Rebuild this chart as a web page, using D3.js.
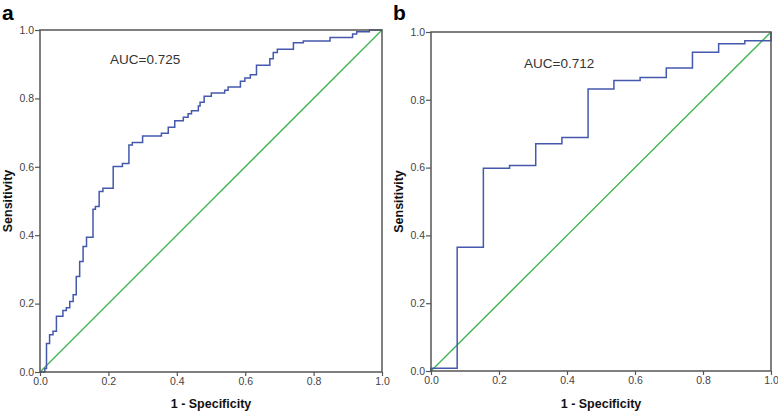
<!DOCTYPE html>
<html>
<head>
<meta charset="utf-8">
<script src="https://cdn.jsdelivr.net/npm/d3@7"></script>
<style>
	body { margin: 0; background: #fff; }
	svg { display: block; font-family: "Liberation Sans", Arial, sans-serif; }
</style>
</head>
<body>
<div id="chart"></div>
<script>
// panel a ROC points (1 - specificity, sensitivity)
let fprA = [0, 0.014, 0.019, 0.028, 0.038, 0.048, 0.067, 0.077, 0.087, 0.097, 0.106, 0.116, 0.126, 0.136, 0.155, 0.162,
	0.173, 0.184, 0.214, 0.241, 0.26, 0.27, 0.3, 0.355, 0.375, 0.394, 0.419, 0.433, 0.443, 0.463, 0.468,
	0.48, 0.501, 0.54, 0.55, 0.586, 0.599, 0.615, 0.633, 0.672, 0.682, 0.694, 0.741, 0.77, 0.848, 0.914,
	0.926, 0.963, 1.0]
let tprA = [0, 0.01, 0.083, 0.109, 0.119, 0.163, 0.18, 0.188, 0.206, 0.226, 0.279, 0.323, 0.367, 0.394, 0.476, 0.484,
	0.528, 0.537, 0.601, 0.61, 0.664, 0.671, 0.69, 0.698, 0.716, 0.735, 0.745, 0.755, 0.764, 0.778, 0.789,
	0.806, 0.816, 0.824, 0.833, 0.85, 0.86, 0.869, 0.897, 0.916, 0.934, 0.944, 0.963, 0.968, 0.978, 0.988,
	0.995, 1.0, 1.0]

// panel b ROC points
let fprB = [0, 0, 0.077, 0.154, 0.231, 0.308, 0.385, 0.462, 0.538, 0.615, 0.692, 0.769, 0.846, 0.923, 1.0, 1.0]
let tprB = [0, 0.008, 0.365, 0.598, 0.606, 0.67, 0.689, 0.832, 0.857, 0.866, 0.894, 0.94, 0.965, 0.974, 0.974, 1.0]

let ticks = [0, 0.2, 0.4, 0.6, 0.8, 1.0]
let panels = [
	{ label: 'a', auc: 'AUC=0.725', fpr: fprA, tpr: tprA, box: [40, 382, 30, 372], aucPos: [110, 64] },
	{ label: 'b', auc: 'AUC=0.712', fpr: fprB, tpr: tprB, box: [431, 771, 32, 371], aucPos: [524, 68] }
]

let W = 778
let H = 414

let svg = d3.select('#chart')
	.append('svg')
	.attr('width', W)
	.attr('height', H)

panels.forEach(p => {
	let [x0, x1, y0, y1] = p.box
	let x = d3.scaleLinear().domain([0, 1]).range([x0, x1])
	let y = d3.scaleLinear().domain([0, 1]).range([y1, y0])
	let g = svg.append('g')

	// axes
	let xAxis = g.append('g')
		.attr('transform', `translate(0,${y1})`)
		.call(d3.axisBottom(x).tickValues(ticks).tickFormat(d3.format('.1f')).tickSize(4).tickSizeOuter(0).tickPadding(2))
	let yAxis = g.append('g')
		.attr('transform', `translate(${x0},0)`)
		.call(d3.axisLeft(y).tickValues(ticks).tickFormat(d3.format('.1f')).tickSize(5).tickSizeOuter(0).tickPadding(1))
	;[xAxis, yAxis].forEach(a => {
		a.select('.domain').remove()
		a.selectAll('line').attr('stroke', '#555').attr('stroke-width', 1.2)
		a.selectAll('text').attr('fill', '#444').attr('font-size', 10.5)
			.attr('font-family', '"Liberation Sans", Arial, sans-serif')
	})

	// reference diagonal
	g.append('line')
		.attr('x1', x(0)).attr('y1', y(0))
		.attr('x2', x(1)).attr('y2', y(1))
		.attr('stroke', '#3fb34f')
		.attr('stroke-width', 1.3)

	// roc curve
	let pts = p.fpr.map((f, i) => [f, p.tpr[i]])
	g.append('path')
		.datum(pts)
		.attr('fill', 'none')
		.attr('stroke', '#4459ad')
		.attr('stroke-width', 1.5)
		.attr('d', d3.line().x(d => x(d[0])).y(d => y(d[1])).curve(d3.curveStepAfter))

	// frame
	g.append('rect')
		.attr('x', x0).attr('y', y0)
		.attr('width', x1 - x0).attr('height', y1 - y0)
		.attr('fill', 'none')
		.attr('stroke', '#555')
		.attr('stroke-width', 1.5)

	g.append('text')
		.attr('x', p.aucPos[0]).attr('y', p.aucPos[1])
		.attr('font-size', 13.5)
		.attr('fill', '#333')
		.text(p.auc)

	g.append('text')
		.attr('x', (x0 + x1) / 2).attr('y', 408)
		.attr('text-anchor', 'middle')
		.attr('font-size', 12.5)
		.attr('font-weight', 'bold')
		.attr('fill', '#111')
		.text('1 - Specificity')

	g.append('text')
		.attr('transform', `translate(${x0 - 28},${(y0 + y1) / 2}) rotate(-90)`)
		.attr('text-anchor', 'middle')
		.attr('font-size', 12.5)
		.attr('font-weight', 'bold')
		.attr('fill', '#111')
		.text('Sensitivity')

	g.append('text')
		.attr('x', x0 - 38).attr('y', 20)
		.attr('font-size', 21)
		.attr('font-weight', 'bold')
		.attr('fill', '#000')
		.text(p.label)
})
</script>
</body>
</html>
